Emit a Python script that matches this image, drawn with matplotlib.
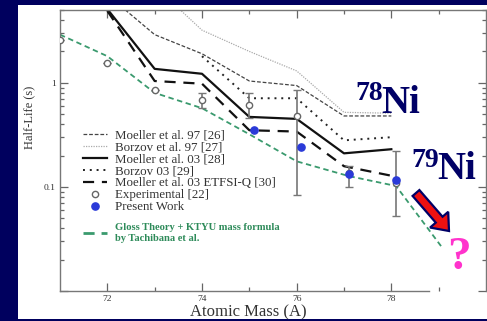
import matplotlib
matplotlib.use("Agg")
import matplotlib.pyplot as plt
from matplotlib.patches import Rectangle, FancyArrow
from matplotlib.ticker import LogLocator, NullFormatter

# ---------------- data ----------------
m97_x = [72, 73, 74, 75, 76, 77, 78]
m97_y = [7.0, 2.9, 1.9, 1.04, 0.94, 0.48, 0.48]

b97_x = [73, 74, 75, 76, 77, 78]
b97_y = [8.5, 3.2, 2.0, 1.3, 0.52, 0.51]

m03_x = [72, 73, 74, 75, 76, 77, 78]
m03_y = [5.1, 1.36, 1.22, 0.47, 0.45, 0.21, 0.23]

b03_x = [74, 75, 76, 77, 78]
b03_y = [1.8, 0.71, 0.71, 0.28, 0.30]

etf_x = [72, 73, 74, 75, 76, 77, 78]
etf_y = [4.9, 1.04, 0.98, 0.35, 0.34, 0.158, 0.128]

exp_x = [71, 72, 73, 74, 75, 76, 77.1, 78.1]
exp_y = [2.55, 1.54, 0.86, 0.68, 0.61, 0.48, 0.135, 0.11]
exp_lo = [2.55, 1.54, 0.86, 0.57, 0.46, 0.084, 0.10, 0.053]
exp_hi = [2.55, 1.54, 0.86, 0.80, 0.79, 0.86, 0.16, 0.22]

pw_x = [75.1, 76.1, 77.1, 78.1]
pw_y = [0.35, 0.243, 0.133, 0.116]

gl_x = [71, 72, 73, 74, 75, 76, 77.1, 78.1, 79.05]
gl_y = [2.9, 1.8, 0.80, 0.57, 0.32, 0.176, 0.127, 0.102, 0.027]

labels = ["Moeller et al. 97 [26]", "Borzov et al. 97 [27]", "Moeller et al. 03 [28]",
          "Borzov 03 [29]", "Moeller et al. 03 ETFSI-Q [30]", "Experimental [22]",
          "Present Work"]
gloss_label = "Gloss Theory + KTYU mass formula\nby Tachibana et al."
x_ticks = [72, 74, 76, 78]
x_minor = [73, 75, 77, 79]
y_ticks = [0.01, 0.1, 1]
y_ticklabels = ["", "0.1", "1"]

# ---------------- style ----------------
plt.rcParams['font.family'] = ['Liberation Serif', 'DejaVu Serif']
NAVY = '#00005e'
W, H = 487, 321

fig = plt.figure(figsize=(W / 100, H / 100), dpi=100, facecolor=NAVY)
fig.patches.append(Rectangle((18 / W, 2 / H), 1 - 18 / W, (319 - 5) / H,
                             transform=fig.transFigure, facecolor='white',
                             edgecolor='none', zorder=-10))

ax = fig.add_axes([60 / W, (321 - 291) / H, 426 / W, (291 - 10) / H])
ax.set_facecolor('none')
ax.set_yscale('log')
ax.set_xlim(71, 80)
ax.set_ylim(0.01, 5)

ax.plot(m97_x, m97_y, color='#444444', lw=0.9, ls=(0, (3, 1.5)), label=labels[0])
ax.plot(b97_x, b97_y, color='#aaaaaa', lw=0.9, ls=(0, (1, 1)), label=labels[1])
ax.plot(m03_x, m03_y, color='#111111', lw=1.6, ls='-', label=labels[2])
ax.plot(b03_x, b03_y, color='#222222', lw=1.4, ls=(0, (1, 2.5)), label=labels[3])
ax.plot(etf_x, etf_y, color='#111111', lw=1.6, ls=(0, (5, 3.5)), label=labels[4])
lo = [y - l for y, l in zip(exp_y, exp_lo)]
hi = [h - y for y, h in zip(exp_y, exp_hi)]
ax.errorbar(exp_x, exp_y, yerr=[lo, hi], fmt='none', ecolor='#777777',
            elinewidth=1.2, capsize=3, capthick=1.0, zorder=3)
ax.plot(exp_x, exp_y, ls='none', marker='o', ms=4.5, mfc='white', mec='#666666',
        mew=1.0, zorder=4, label=labels[5])
gl_line, = ax.plot(gl_x, gl_y, color='#3a9a6e', lw=1.3, ls=(0, (3, 2)), zorder=2)
ax.plot(pw_x, pw_y, ls='none', marker='o', ms=5.2, mfc='#2a3ad8', mec='#2a3ad8',
        zorder=5, label=labels[6])

ax.set_xticks(x_ticks)
ax.set_xticklabels([str(t) for t in x_ticks])
ax.set_xticks(x_minor, minor=True)
ax.set_yticks(y_ticks)
ax.set_yticklabels(y_ticklabels)
ax.yaxis.set_minor_locator(LogLocator(base=10, subs=range(2, 10)))
ax.yaxis.set_minor_formatter(NullFormatter())
ax.tick_params(which='both', direction='in', top=True, right=True, colors='#666666',
               labelcolor='#333333', labelsize=6.8, width=0.9)
ax.tick_params(which='major', length=6, pad=3)
ax.tick_params(which='minor', length=3)
for s in ax.spines.values():
    s.set_color('#777777')
    s.set_linewidth(1.0)
ax.spines['bottom'].set_bounds(71, 78.8)

ax.set_xlabel("Atomic Mass (A)", fontsize=12, color='#333333')
ax.xaxis.set_label_coords((248 - 60) / 426, (291 - 304) / 281)
ax.set_ylabel("Half-Life (s)", fontsize=9, color='#333333')
ax.yaxis.set_label_coords((35 - 60) / 426, (291 - 117) / 281)

leg = ax.legend(loc='upper left', bbox_to_anchor=((83 - 60) / 426, (291 - 129) / 281),
                frameon=False, fontsize=9.3, borderpad=0, borderaxespad=0,
                handlelength=1.85, handletextpad=0.6, labelspacing=0.0,
                markerscale=1.0)
for t in leg.get_texts():
    t.set_color('#333333')
ax.add_artist(leg)
leg2 = ax.legend([gl_line], [gloss_label], loc='upper left',
                 bbox_to_anchor=((83 - 60) / 426, (291 - 223) / 281),
                 frameon=False, fontsize=7.6, borderpad=0, borderaxespad=0,
                 handlelength=2.3, handletextpad=0.75)
for t in leg2.get_texts():
    t.set_color('#2e8b5a')
    t.set_fontweight('bold')
    t.set_linespacing(1.3)
for h in leg2.get_lines():
    h.set_linewidth(2.0)
    h.set_linestyle((0, (4, 2.5)))

# ---------------- overlay annotations ----------------
ov = fig.add_axes([0, 0, 1, 1], zorder=5)
ov.set_xlim(0, W)
ov.set_ylim(H, 0)
ov.axis('off')
ov.patch.set_alpha(0)
TC = '#000066'
ov.text(355, 100, "78", fontsize=20, fontweight='bold', color=TC, ha='left', va='baseline')
ov.text(381, 113, "Ni", fontsize=28, fontweight='bold', color=TC, ha='left', va='baseline')
ov.text(411, 167, "79", fontsize=20, fontweight='bold', color=TC, ha='left', va='baseline')
ov.text(437, 179, "Ni", fontsize=28, fontweight='bold', color=TC, ha='left', va='baseline')
ov.add_patch(FancyArrow(416, 193, 33, 38, width=9, head_width=24, head_length=15,
                        length_includes_head=True, facecolor='#ee1111',
                        edgecolor=TC, linewidth=1.6))
ov.text(459, 269, "?", fontsize=34, fontweight='bold', color='#ff33cc',
        ha='center', va='baseline')

fig.savefig("out.png", dpi=100, facecolor=NAVY)
